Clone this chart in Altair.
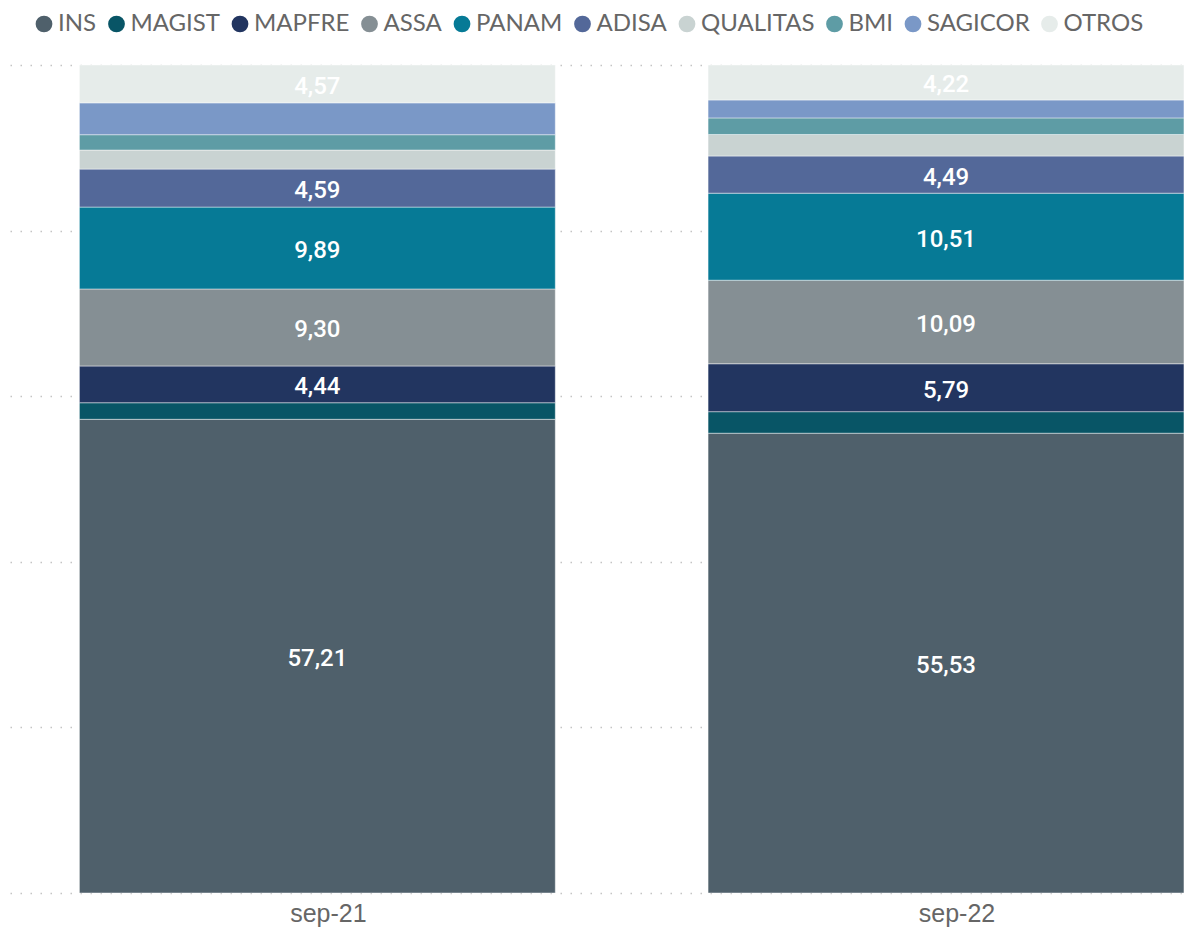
import altair as alt
import pandas as pd

companies = ["INS", "MAGIST", "MAPFRE", "ASSA", "PANAM", "ADISA", "QUALITAS", "BMI", "SAGICOR", "OTROS"]
colors = ["#4f606b", "#085566", "#223560", "#858f94", "#067a96", "#536899", "#c9d3d2", "#5e9ca5", "#7a98c7", "#e6ecea"]
periods = ["sep-21", "sep-22"]
sep21 = [57.21, 2.00, 4.44, 9.30, 9.89, 4.59, 2.30, 1.85, 3.85, 4.57]
sep22 = [55.53, 2.60, 5.79, 10.09, 10.51, 4.49, 2.60, 2.00, 2.17, 4.22]

rows = []
for p, vals in zip(periods, [sep21, sep22]):
    for i, (c, v) in enumerate(zip(companies, vals)):
        rows.append({"periodo": p, "empresa": c, "valor": v, "orden": i})
df = pd.DataFrame(rows)
df_periods = pd.DataFrame({"periodo": periods})

xscale = alt.Scale(domain=periods, paddingInner=0.243, paddingOuter=0.06, align=0.92)
x = alt.X("periodo:N", sort=periods, scale=xscale, axis=None)

base = alt.Chart(df).transform_stack(
    stack="valor", groupby=["periodo"], as_=["y0", "y1"],
    sort=[alt.SortField("orden", order="ascending")]
).transform_calculate(
    mid="(datum.y0 + datum.y1) / 2",
    etiqueta="replace(format(datum.valor, '.2f'), '.', ',')"
)

bars = base.mark_bar(stroke="#ffffff", strokeOpacity=0.45, strokeWidth=1).encode(
    x=x,
    y=alt.Y("y0:Q", scale=alt.Scale(domain=[0, 100], nice=False),
            axis=alt.Axis(title=None, labels=False, ticks=False, domain=False,
                          values=[0, 20, 40, 60, 80, 100], grid=True,
                          gridColor="#c4c4c4", gridDash=[1.5, 8.5], gridWidth=1.5)),
    y2="y1:Q",
    color=alt.Color("empresa:N", sort=companies,
                    scale=alt.Scale(domain=companies, range=colors),
                    legend=alt.Legend(title=None, orient="none", direction="horizontal",
                                      columns=10, legendX=22, legendY=-53,
                                      symbolType="circle", symbolSize=280,
                                      symbolStrokeWidth=0, labelFontSize=24,
                                      labelFont="Lato", labelColor="#666666",
                                      labelOffset=2, columnPadding=7.5)),
)

labels = base.transform_filter("datum.valor > 4").mark_text(
    color="#ffffff", font="Roboto", fontSize=24, fontWeight=500, baseline="middle", dy=3
).encode(
    x=x,
    y=alt.Y("mid:Q", scale=alt.Scale(domain=[0, 100], nice=False)),
    text="etiqueta:N",
)

xlabels = alt.Chart(df_periods).mark_text(
    color="#666666", font="Liberation Sans", fontSize=25, baseline="alphabetic", dx=11
).encode(
    x=x,
    y=alt.value(857),
    text="periodo:N",
)

chart = alt.layer(bars, labels, xlabels).properties(
    width=1180, height=828,
    padding={"left": 2, "top": 57, "right": 0, "bottom": 36},
    autosize=alt.AutoSizeParams(type="none"),
).configure_view(stroke=None, clip=False)

chart.save("out.html", embed_options={"renderer": "svg", "actions": False})
